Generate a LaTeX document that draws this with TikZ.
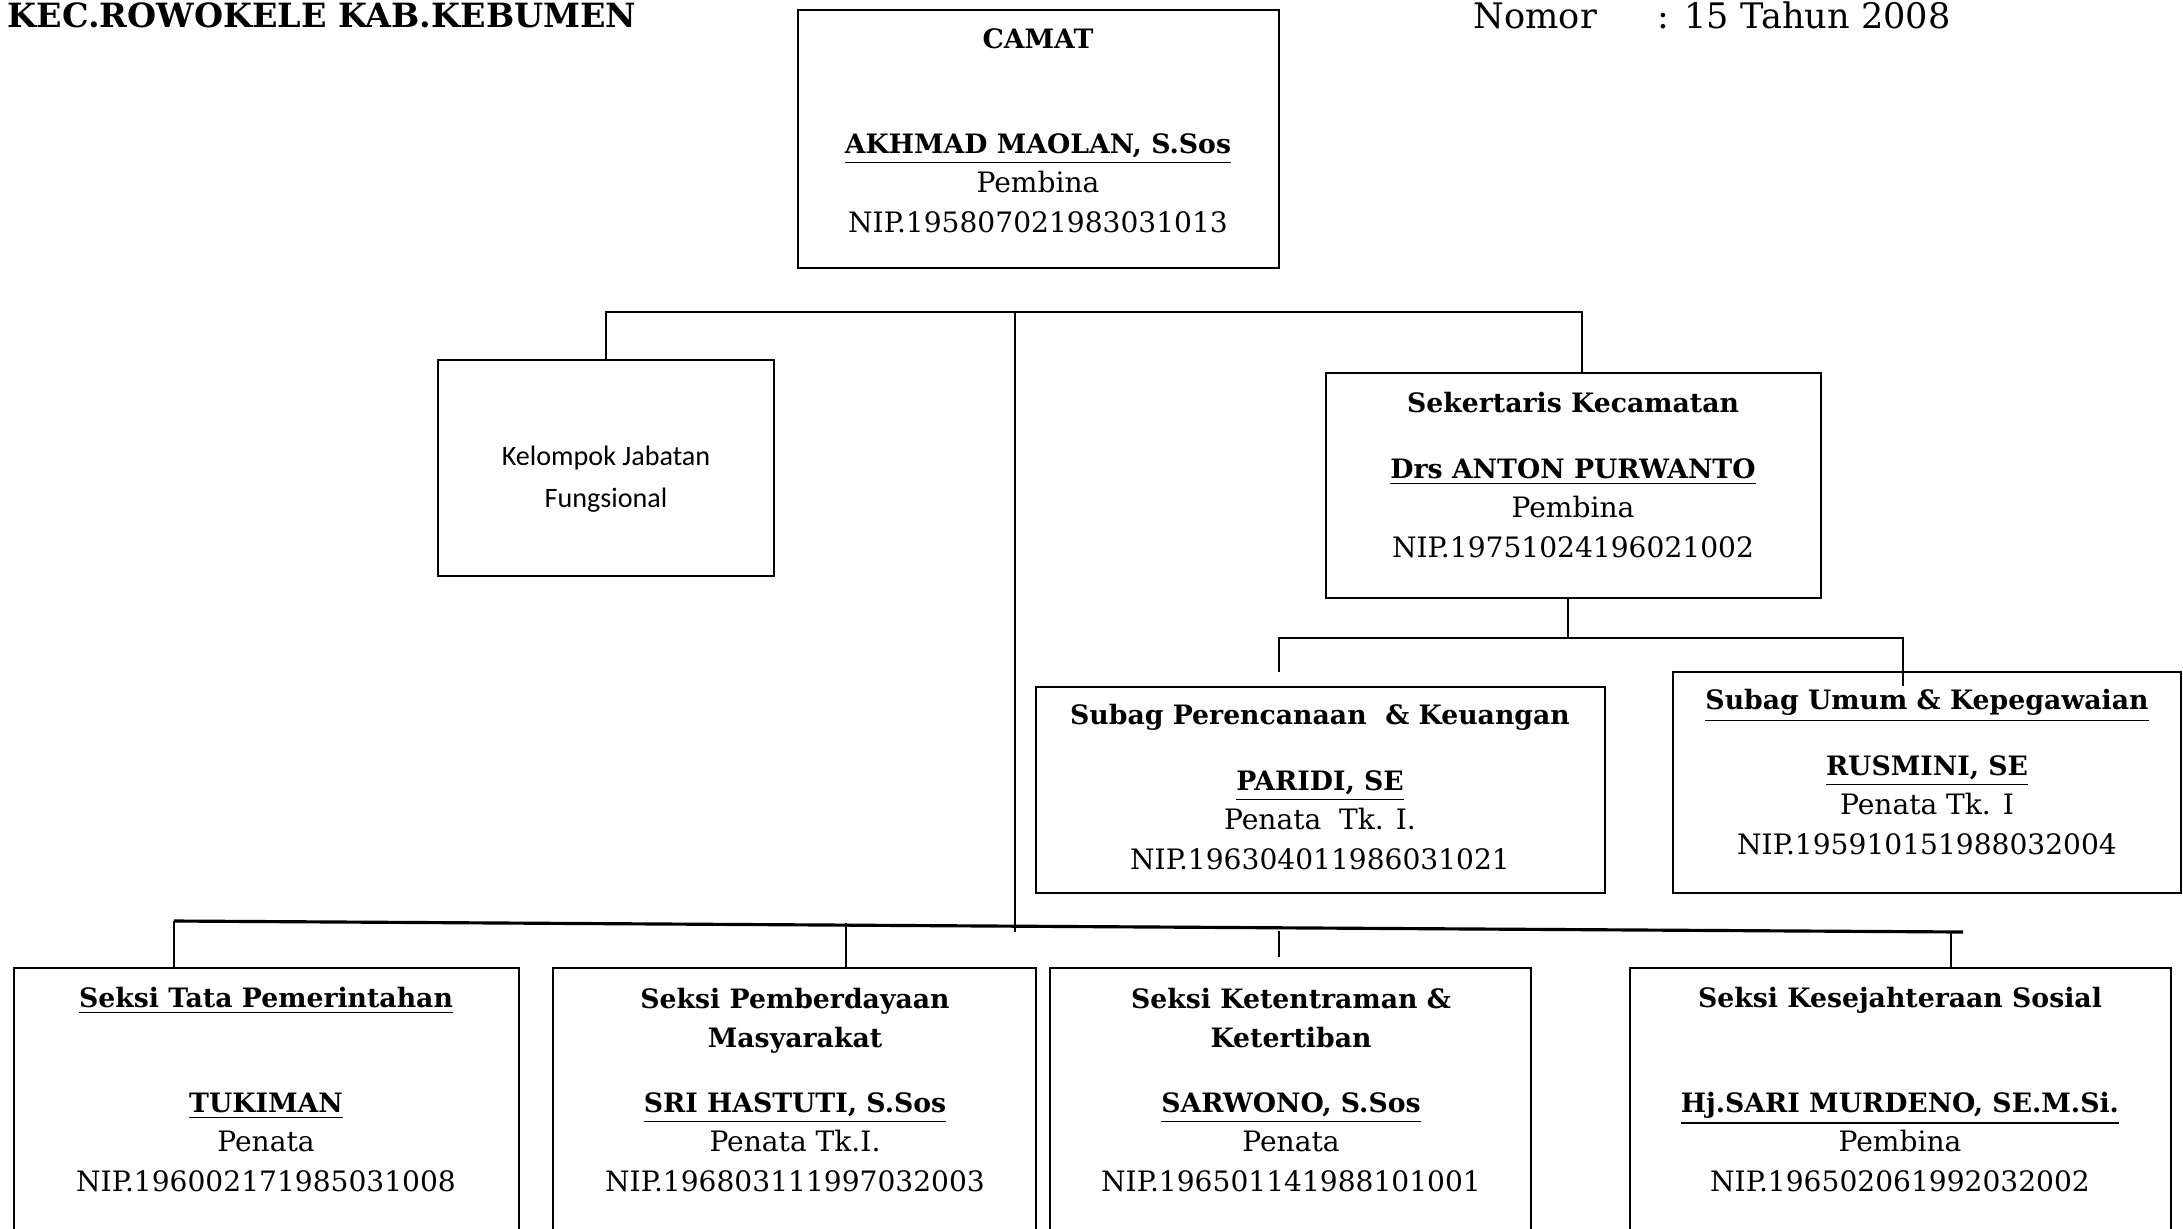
\documentclass[tikz,border=0pt]{standalone}
\usepackage{fontspec}
\setmainfont{DejaVu Serif}
\newfontfamily\calfont{Carlito}
\usetikzlibrary{positioning, fit, calc}
\newcommand{\bfn}[1]{{\fontsize{7.6}{11.2}\selectfont\textbf{#1}}}

\begin{document}
\begin{tikzpicture}[x=0.1mm,y=-0.1mm,
    box/.style={draw,line width=0.7pt,inner sep=0pt},
    txt/.style={align=center,inner sep=0pt,anchor=base,font=\fontsize{8}{11.2}\selectfont},
    link/.style={line width=0.7pt}]
    \useasboundingbox (0,0) rectangle (2183,1228);
    \clip (0,0) rectangle (2183,1228);
    \node[anchor=base west,inner sep=0pt,font=\bfseries\fontsize{9.5}{12}\selectfont] (kop) at (7,27) {KEC.ROWOKELE KAB.KEBUMEN};
    \node[anchor=base west,inner sep=0pt,font=\fontsize{10}{12}\selectfont] (nomor) at (1473,28) {Nomor\hspace{6.1mm}: 15 Tahun 2008};
    \node[box,fit={(798,10) (1279,268)}] (camat) {};
    \node[box,fit={(438,360) (774,576)}] (kjf) {};
    \node[box,fit={(1326,373) (1821,598)}] (sekcam) {};
    \node[box,fit={(1036,687) (1605,893)}] (subren) {};
    \node[box,fit={(1673,672) (2181,893)}] (subum) {};
    \node[box,fit={(14,968) (519,1300)}] (tapem) {};
    \node[box,fit={(553,968) (1036,1300)}] (pmd) {};
    \node[box,fit={(1050,968) (1531,1300)}] (trantib) {};
    \node[box,fit={(1630,968) (2171,1300)}] (kesos) {};
    \node[txt] (camat-t) at (1038,232) {\bfn{CAMAT}\\[6.55mm]\underline{\bfn{AKHMAD MAOLAN, S.Sos}}\\Pembina\\NIP.195807021983031013};
    \node[txt,font=\calfont\fontsize{8}{11.7}\selectfont] (kjf-t) at (606,507) {Kelompok Jabatan\\Fungsional};
    \node[txt] (sekcam-t) at (1573,557) {\bfn{Sekertaris Kecamatan}\\[2.65mm]\underline{\bfn{Drs ANTON PURWANTO}}\\Pembina\\NIP.19751024196021002};
    \node[txt] (subren-t) at (1320,869) {\bfn{Subag Perencanaan\ \ \& Keuangan}\\[2.65mm]\underline{\bfn{PARIDI, SE}}\\Penata\ \ Tk. I.\\NIP.196304011986031021};
    \node[txt] (subum-t) at (1927,854) {\underline{\bfn{Subag Umum \& Kepegawaian}}\\[2.65mm]\underline{\bfn{RUSMINI, SE}}\\Penata Tk. I\\NIP.195910151988032004};
    \node[txt] (tapem-t) at (266,1191) {\underline{\bfn{Seksi Tata Pemerintahan}}\\[6.55mm]\underline{\bfn{TUKIMAN}}\\Penata\\NIP.196002171985031008};
    \node[txt] (pmd-t) at (795,1191) {\bfn{Seksi Pemberdayaan}\\\bfn{Masyarakat}\\[2.55mm]\underline{\bfn{SRI HASTUTI, S.Sos}}\\Penata Tk.I.\\NIP.196803111997032003};
    \node[txt] (trantib-t) at (1291,1191) {\bfn{Seksi Ketentraman \&}\\\bfn{Ketertiban}\\[2.55mm]\underline{\bfn{SARWONO, S.Sos}}\\Penata\\NIP.196501141988101001};
    \node[txt] (kesos-t) at (1900,1191) {\bfn{Seksi Kesejahteraan Sosial}\\[6.55mm]\underline{\bfn{Hj.SARI MURDENO, SE.M.Si.}}\\Pembina\\NIP.196502061992032002};
    \coordinate (tb-m) at (1015,312);
    \coordinate (tb-r) at (1582,312);
    \coordinate (bb-m) at (1015,932);
    \draw[link] (kjf.north) |- (tb-r) -- (tb-r |- sekcam.north);
    \draw[link] (tb-m) -- (bb-m);
    \coordinate (sb-m) at (1568,638);
    \coordinate (sb-l) at (1279,638);
    \coordinate (sb-r) at (1903,638);
    \coordinate (sb-le) at (1279,672);
    \draw[link] (sb-m |- sekcam.south) -- (sb-m);
    \draw[link] (sb-le) -- (sb-l) -- (sb-r) -- (sb-r |- subren.north);
    \coordinate (bb-l) at (174,921);
    \coordinate (bb-r) at (1963,932);
    \coordinate (bb-2) at (846,923);
    \coordinate (bb-3a) at (1279,931);
    \coordinate (bb-3b) at (1279,957);
    \coordinate (bb-4) at (1951,932);
    \draw[line width=0.9pt] (bb-l) -- (bb-r);
    \draw[link] (bb-l) -- (bb-l |- tapem.north);
    \draw[link] (bb-2) -- (bb-2 |- pmd.north);
    \draw[link] (bb-3a) -- (bb-3b);
    \draw[link] (bb-4) -- (bb-4 |- kesos.north);
\end{tikzpicture}
\end{document}
